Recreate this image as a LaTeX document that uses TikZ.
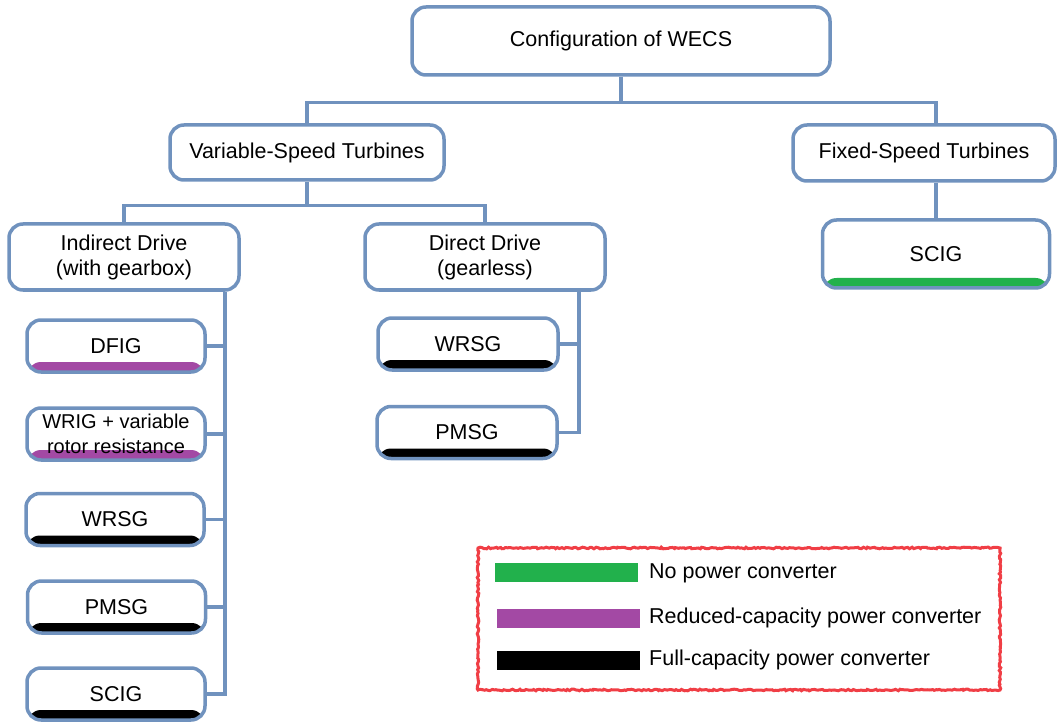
\documentclass[tikz,border=0pt]{standalone}
\usepackage{fontspec}
\setmainfont{Liberation Sans}
\usetikzlibrary{calc, decorations.pathmorphing}
\definecolor{boxblue}{RGB}{112,146,190}
\definecolor{nogreen}{RGB}{34,177,76}
\definecolor{redpurple}{RGB}{163,73,164}
\definecolor{legendred}{RGB}{237,28,36}
\tikzset{
  box/.style={draw=boxblue, line width=3.5pt, rounded corners=14pt, fill=white,
    align=center, inner sep=2pt, font=\fontsize{21.5}{25}\selectfont},
  genbox/.style={box, minimum width=178pt, minimum height=52pt,
    path picture={\fill[#1] (path picture bounding box.south west)
      rectangle ([yshift=10pt]path picture bounding box.south east);}},
  link/.style={draw=boxblue, line width=3.5pt},
  bar/.style={minimum width=143pt, minimum height=19pt, inner sep=0pt},
  keytext/.style={anchor=west, inner sep=0pt, font=\fontsize{21.5}{25}\selectfont}
}
\begin{document}
\begin{tikzpicture}[x=1pt, y=-1pt]
		\useasboundingbox (0,0) rectangle (1058,722);
		% tree of configurations
		\node[box, minimum width=418pt, minimum height=68pt] (cfg) at (621,41) {Configuration of WECS};
		\node[box, minimum width=274pt, minimum height=55pt] (vst) at (307,152.5) {Variable-Speed Turbines};
		\node[box, minimum width=262pt, minimum height=56pt] (fst) at (924,153) {Fixed-Speed Turbines};
		\node[box, minimum width=230pt, minimum height=66pt] (ind) at (124,257) {Indirect Drive\\(with gearbox)};
		\node[box, minimum width=240pt, minimum height=66pt] (dir) at (485,257) {Direct Drive\\(gearless)};
		\node[genbox=nogreen, minimum width=227pt, minimum height=68pt] (scigF) at (936,254) {SCIG};
		\node[genbox=redpurple] (dfig) at (116,346) {DFIG};
		\node[genbox=redpurple, inner sep=0pt, font=\fontsize{20}{25}\selectfont] (wrig) at (116,434) {WRIG + variable\\rotor resistance};
		\node[genbox=black] (wrsgI) at (115,519.5) {WRSG};
		\node[genbox=black] (pmsgI) at (116.5,607) {PMSG};
		\node[genbox=black] (scigI) at (116,694) {SCIG};
		\node[genbox=black, minimum width=180pt] (wrsgD) at (468,344) {WRSG};
		\node[genbox=black, minimum width=180pt] (pmsgD) at (467,432.5) {PMSG};
		\draw[link] (cfg.south) -- ++(0,26) coordinate (top);
		\draw[link] (top) -| (vst.north);
		\draw[link] (top) -| ([xshift=12pt]fst.north);
		\draw[link] ([xshift=12pt]fst.south) -- (scigF.north);
		\draw[link] (vst.south) -- ++(0,24) coordinate (mid);
		\draw[link] (mid) -| (ind.north);
		\draw[link] (mid) -| (dir.north);
		\foreach \n in {dfig, wrig, wrsgI, pmsgI, scigI}
			\draw[link] (\n.east) -| ([xshift=-16pt]ind.south east);
		\foreach \n in {wrsgD, pmsgD}
			\draw[link] (\n.east) -| ([xshift=-28pt]dir.south east);
		% legend
		\node[draw=legendred!85, line width=3pt, minimum width=522pt, minimum height=142pt,
			decorate, decoration={random steps, segment length=2pt, amplitude=0.8pt}] (legend) at (739,619) {};
		\node[bar, fill=nogreen] (keyno) at (566,572.5) {};
		\node[bar, fill=redpurple] (keyred) at (568.5,618.5) {};
		\node[bar, fill=black] (keyfull) at (568.5,660) {};
		\node[keytext] (txtno) at (649,573) {No power converter};
		\node[keytext] (txtred) at (649,618) {Reduced-capacity power converter};
		\node[keytext] (txtfull) at (649,660) {Full-capacity power converter};
	\end{tikzpicture}
\end{document}
